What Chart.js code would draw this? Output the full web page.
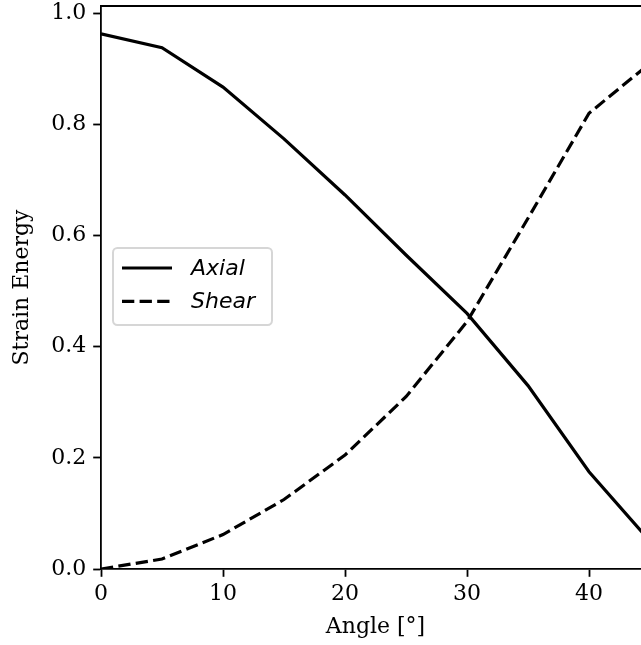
<!DOCTYPE html>
<html>
<head>
<meta charset="utf-8">
<script src="https://cdn.jsdelivr.net/npm/chart.js@4/dist/chart.umd.min.js"></script>
<style>
  html, body { margin: 0; padding: 0; background: #ffffff; overflow: hidden; }
  #wrap { position: relative; width: 700px; height: 645px; }
</style>
</head>
<body>
<div id="wrap"><canvas id="c" width="700" height="645"></canvas></div>
<script>
// ---- data ----
const angles = [0, 5, 10, 15, 20, 25, 30, 35, 40, 45];
const axialEnergy = [0.963, 0.938, 0.867, 0.774, 0.673, 0.565, 0.460, 0.330, 0.175, 0.050];
const shearEnergy = [0.000, 0.018, 0.062, 0.125, 0.205, 0.310, 0.445, 0.631, 0.820, 0.910];
const seriesLabels = ['Axial', 'Shear'];
const xTickValues = [0, 10, 20, 30, 40];
const yTickValues = [0.0, 0.2, 0.4, 0.6, 0.8, 1.0];
const xAxisTitle = 'Angle [°]';
const yAxisTitle = 'Strain Energy';

// ---- style ----
const FS = 22;
const serif = "'DejaVu Serif', 'Liberation Serif', serif";
const sans = "'DejaVu Sans', 'Liberation Sans', sans-serif";
const LW = 3.2;
const SPINE = 1.8;
const DASH = [12.3, 5.3];

const spinesPlugin = {
  id: 'spines',
  afterDraw(chart) {
    const { ctx, chartArea: a } = chart;
    ctx.save();
    ctx.strokeStyle = '#000';
    ctx.lineWidth = SPINE;
    ctx.beginPath();
    ctx.moveTo(a.left, a.top);
    ctx.lineTo(a.right, a.top);
    ctx.lineTo(a.right, a.bottom);
    ctx.stroke();
    ctx.restore();
  }
};

const legendPlugin = {
  id: 'mplLegend',
  afterDraw(chart) {
    const { ctx, chartArea: a } = chart;
    const ds = chart.data.datasets;
    const rowH = 33.4;
    const boxW = 159, boxH = 77;
    const x0 = a.left + 0.5 * FS + 1;
    const y0 = (a.top + a.bottom) / 2 - boxH / 2 - 1;
    ctx.save();
    const r = 4.4;
    ctx.beginPath();
    ctx.moveTo(x0 + r, y0);
    ctx.lineTo(x0 + boxW - r, y0);
    ctx.arcTo(x0 + boxW, y0, x0 + boxW, y0 + r, r);
    ctx.lineTo(x0 + boxW, y0 + boxH - r);
    ctx.arcTo(x0 + boxW, y0 + boxH, x0 + boxW - r, y0 + boxH, r);
    ctx.lineTo(x0 + r, y0 + boxH);
    ctx.arcTo(x0, y0 + boxH, x0, y0 + boxH - r, r);
    ctx.lineTo(x0, y0 + r);
    ctx.arcTo(x0, y0, x0 + r, y0, r);
    ctx.closePath();
    ctx.fillStyle = 'rgba(255,255,255,0.8)';
    ctx.fill();
    ctx.strokeStyle = '#d6d6d6';
    ctx.lineWidth = 2;
    ctx.stroke();
    ds.forEach((d, i) => {
      const cy = y0 + 20 + i * rowH;
      ctx.beginPath();
      ctx.setLineDash(d.borderDash || []);
      ctx.strokeStyle = d.borderColor;
      ctx.lineWidth = LW;
      ctx.moveTo(x0 + 9, cy);
      ctx.lineTo(x0 + 9 + 2 * FS + 6, cy);
      ctx.stroke();
      ctx.setLineDash([]);
      ctx.fillStyle = '#000';
      ctx.font = 'italic ' + FS + 'px ' + sans;
      ctx.textAlign = 'left';
      ctx.textBaseline = 'middle';
      ctx.fillText(d.label, x0 + 78, cy + 1);
    });
    ctx.restore();
  }
};

new Chart(document.getElementById('c'), {
  type: 'line',
  data: {
    datasets: [
      {
        label: seriesLabels[0],
        data: angles.map((a, i) => ({ x: a, y: axialEnergy[i] })),
        borderColor: '#000',
        borderWidth: LW,
        pointRadius: 0,
        tension: 0,
        fill: false
      },
      {
        label: seriesLabels[1],
        data: angles.map((a, i) => ({ x: a, y: shearEnergy[i] })),
        borderColor: '#000',
        borderWidth: LW,
        borderDash: DASH,
        pointRadius: 0,
        tension: 0,
        fill: false
      }
    ]
  },
  options: {
    responsive: false,
    animation: false,
    devicePixelRatio: 1,
    layout: { padding: { left: 0, right: 50, top: 6, bottom: 0 } },
    plugins: { legend: { display: false }, tooltip: { enabled: false } },
    scales: {
      x: {
        type: 'linear',
        min: 0,
        max: 45,
        afterBuildTicks: s => { s.ticks = xTickValues.map(v => ({ value: v })); },
        afterFit: s => { s.height = 76; s.paddingLeft = 0; s.paddingRight = 0; },
        ticks: {
          color: '#000',
          font: { family: serif, size: FS },
          padding: 4,
          maxRotation: 0,
          callback: v => String(v)
        },
        grid: {
          drawOnChartArea: false,
          drawTicks: true,
          tickLength: 7.8,
          tickColor: '#000',
          tickWidth: SPINE
        },
        border: { display: true, color: '#000', width: SPINE },
        title: {
          display: true,
          text: xAxisTitle,
          color: '#000',
          font: { family: serif, size: FS },
          padding: { top: 0, bottom: 5 }
        }
      },
      y: {
        type: 'linear',
        min: 0,
        max: 1.013,
        afterBuildTicks: s => { s.ticks = yTickValues.map(v => ({ value: v })); },
        afterFit: s => { s.width = 101; s.paddingTop = 0; s.paddingBottom = 0; },
        ticks: {
          color: '#000',
          font: { family: serif, size: FS },
          padding: 7,
          callback: v => Number(v).toFixed(1)
        },
        grid: {
          drawOnChartArea: false,
          drawTicks: true,
          tickLength: 7.8,
          tickColor: '#000',
          tickWidth: SPINE
        },
        border: { display: true, color: '#000', width: SPINE },
        title: {
          display: true,
          text: yAxisTitle,
          color: '#000',
          font: { family: serif, size: FS },
          padding: { top: 9, bottom: 0 }
        }
      }
    }
  },
  plugins: [spinesPlugin, legendPlugin]
});
</script>
</body>
</html>
